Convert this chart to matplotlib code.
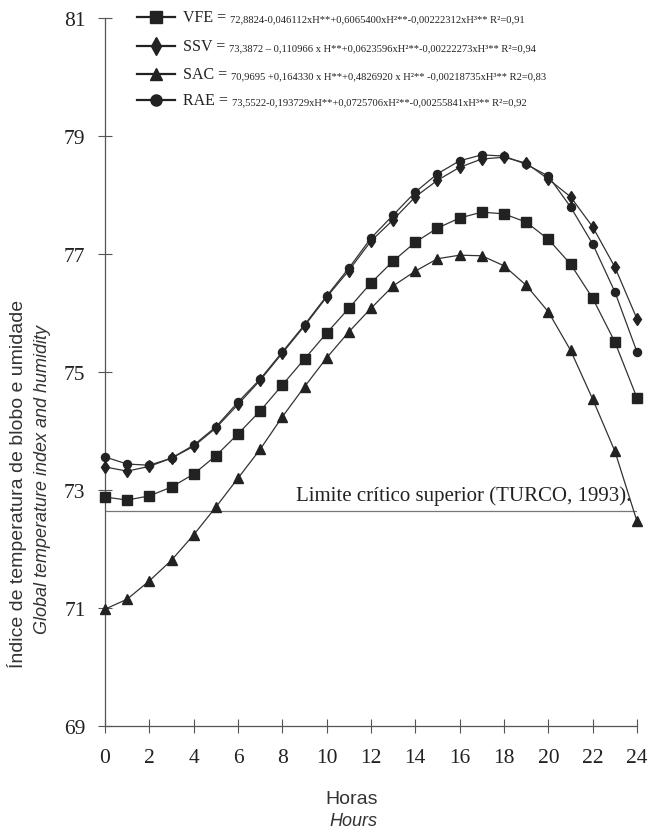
import matplotlib
matplotlib.use('Agg')
import matplotlib.pyplot as plt
from matplotlib.lines import Line2D

SERIF = 'Liberation Serif'
SANS = 'Liberation Sans'

hours = list(range(25))

vfe = [72.88, 72.83, 72.90, 73.05, 73.27, 73.58, 73.95, 74.34, 74.78, 75.22,
       75.66, 76.08, 76.51, 76.88, 77.20, 77.44, 77.61, 77.71, 77.68, 77.54,
       77.25, 76.83, 76.25, 75.51, 74.56]
ssv = [73.39, 73.32, 73.40, 73.54, 73.74, 74.05, 74.45, 74.86, 75.32, 75.78,
       76.27, 76.72, 77.22, 77.58, 77.97, 78.25, 78.47, 78.61, 78.64, 78.54,
       78.27, 77.97, 77.46, 76.78, 75.90]
sac = [70.98, 71.15, 71.46, 71.81, 72.24, 72.71, 73.20, 73.69, 74.24, 74.75,
       75.24, 75.68, 76.08, 76.46, 76.71, 76.92, 76.98, 76.97, 76.80, 76.47,
       76.02, 75.37, 74.54, 73.66, 72.47]
rae = [73.56, 73.44, 73.42, 73.54, 73.76, 74.07, 74.49, 74.88, 75.34, 75.80,
       76.29, 76.76, 77.27, 77.66, 78.05, 78.36, 78.58, 78.68, 78.66, 78.52,
       78.32, 77.80, 77.17, 76.36, 75.34]

limite = 72.65

names = ['VFE =', 'SSV =', 'SAC =', 'RAE =']
equations = [
    '72,8824-0,046112xH**+0,6065400xH\u00b2**-0,00222312xH\u00b3** R\u00b2=0,91',
    '73,3872 \u2013 0,110966 x H**+0,0623596xH\u00b2**-0,00222273xH\u00b3** R\u00b2=0,94',
    '70,9695 +0,164330 x H**+0,4826920 x H\u00b2** -0,00218735xH\u00b3** R2=0,83',
    '73,5522-0,193729xH**+0,0725706xH\u00b2**-0,00255841xH\u00b3** R\u00b2=0,92',
]
series = [vfe, ssv, sac, rae]
markers = ['s', 'd', '^', 'o']
msizes = [6.5, 6.0, 6.5, 5.8]

fig = plt.figure(figsize=(6.49, 8.29), dpi=100)
ax = fig.add_axes([105 / 649, 1 - 727 / 829, 532 / 649, 708 / 829])

for vals, m, ms in zip(series, markers, msizes):
    ax.plot(hours, vals, color='#333333', lw=0.9, marker=m, ms=ms,
            mfc='#222222', mec='#222222', clip_on=False, zorder=3)

ax.axhline(limite, color='#777777', lw=0.9, zorder=2)
ax.text(23.75, limite + 0.1, 'Limite cr\u00edtico superior (TURCO, 1993).',
        family=SERIF, fontsize=15, color='#222222', ha='right', va='bottom')

ax.set_xlim(0, 24)
ax.set_ylim(69, 81)
ax.set_xticks(range(0, 25, 2))
ax.set_yticks(range(69, 82, 2))
for s in ['top', 'right']:
    ax.spines[s].set_visible(False)
for s in ['left', 'bottom']:
    ax.spines[s].set_color('#555555')
    ax.spines[s].set_linewidth(0.9)
ax.tick_params(direction='inout', length=10, width=0.8, color='#555555',
               labelsize=15.5, labelcolor='#222222')
ax.tick_params(axis='y', pad=9)
ax.tick_params(axis='x', pad=11)
for lab in ax.get_xticklabels() + ax.get_yticklabels():
    lab.set_family(SERIF)

# axis titles
fig.text(352 / 649, 1 - 800 / 829, 'Horas', family=SANS, fontsize=14,
         color='#333333', ha='center', va='center')
fig.text(353 / 649, 1 - 822 / 829, 'Hours', family=SANS, fontsize=13,
         style='italic', color='#333333', ha='center', va='center')
fig.text(17 / 649, 1 - 484 / 829, '\u00cdndice de temperatura de blobo e umidade',
         family=SANS, fontsize=14, color='#333333', rotation=90,
         ha='center', va='center')
fig.text(43 / 649, 1 - 479 / 829, 'Global temperature index and humidity',
         family=SANS, fontsize=13, style='italic', color='#333333',
         rotation=90, ha='center', va='center')

# legend drawn by hand so the name and the equation can differ in size
rows = [18, 47, 75, 101]
for ypx, name, eq, m in zip(rows, names, equations, markers):
    yf = 1 - ypx / 829
    fig.add_artist(Line2D([137 / 649, 175 / 649], [yf, yf], transform=fig.transFigure,
                          color='#222222', lw=1.6))
    fig.add_artist(Line2D([156 / 649], [yf], transform=fig.transFigure,
                          marker=m, ms=8 if m != 'd' else 9, color='#222222'))
    t = fig.text(183 / 649, yf, name, family=SERIF, fontsize=11.5,
                 color='#222222', ha='left', va='center')
    ax.annotate(eq, xy=(1, 0.22), xycoords=t, xytext=(3, 0),
                textcoords='offset points', family=SERIF, fontsize=7.6,
                color='#222222', ha='left', va='baseline', annotation_clip=False)

fig.savefig('out.png', dpi=100)
